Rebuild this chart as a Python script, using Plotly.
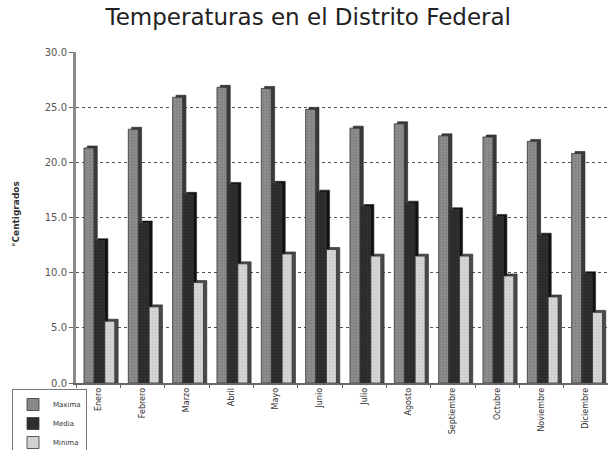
import plotly.graph_objects as go

meses = ["Enero", "Febrero", "Marzo", "Abril", "Mayo", "Junio", "Julio",
         "Agosto", "Septiembre", "Octubre", "Noviembre", "Diciembre"]
maxima = [21.3, 23.0, 25.9, 26.8, 26.7, 24.8, 23.1, 23.5, 22.4, 22.3, 21.9, 20.8]
media = [12.9, 14.5, 17.1, 18.0, 18.1, 17.3, 16.0, 16.3, 15.7, 15.1, 13.4, 9.9]
minima = [5.6, 6.9, 9.1, 10.8, 11.7, 12.1, 11.5, 11.5, 11.5, 9.7, 7.8, 6.4]

series = [
    ("Maxima", maxima, "#8e8e8e", "#6a6a6a", "#3a3a3a", -0.32),
    ("Media", media, "#303030", "#1c1c1c", "#111111", -0.08),
    ("Minima", minima, "#d6d6d6", "#b8b8b8", "#4a4a4a", 0.15),
]

face_w = 0.225
depth = 0.075

fig = go.Figure()
for name, vals, face, pat, side, off in series:
    # 3D side / top slab drawn behind the face
    fig.add_trace(go.Bar(
        x=meses, y=[v + 0.18 for v in vals], offset=off + depth, width=face_w,
        marker=dict(color=side, line=dict(color="#222222", width=0.6)),
        showlegend=False, hoverinfo="skip"))
    fig.add_trace(go.Bar(
        x=meses, y=vals, name=name, offset=off, width=face_w,
        marker=dict(color=face, line=dict(color="#333333", width=0.8),
                    pattern=dict(shape=".", fgcolor=pat, size=3, solidity=0.35)),
    ))

fig.update_layout(
    width=608, height=450,
    barmode="overlay",
    paper_bgcolor="white", plot_bgcolor="white",
    margin=dict(l=76, r=0, t=52, b=67, autoexpand=False),
    title=dict(text="Temperaturas en el Distrito Federal",
               x=0.507, xref="container", xanchor="center",
               y=0.962, yref="container", yanchor="middle",
               font=dict(family="DejaVu Sans", size=23, color="#222222")),
    font=dict(family="DejaVu Sans", color="#444444"),
    legend=dict(x=12 / 608, y=1 - 389 / 450, xref="container", yref="container",
                xanchor="left", yanchor="top",
                orientation="v", bgcolor="white", bordercolor="#777777",
                borderwidth=1, font=dict(size=7, color="#333333"),
                itemwidth=30, tracegroupgap=0),
    showlegend=True,
    annotations=[dict(text="°Centigrados", xref="paper", yref="paper",
                      x=-0.113, y=0.51, textangle=-90, showarrow=False,
                      xanchor="center", yanchor="middle",
                      font=dict(size=9, color="#333333", weight="bold"))],
)
fig.update_xaxes(
    type="category", categoryorder="array", categoryarray=meses,
    range=[-0.5, 11.5], tickangle=-90,
    tickfont=dict(size=8, color="#333333"),
    ticks="outside", ticklen=3, tickson="boundaries", tickcolor="#666666",
    showline=True, linecolor="#666666", linewidth=1.5, showgrid=False,
    automargin=False)
fig.update_yaxes(
    range=[0, 30], dtick=5, tickformat=".1f",
    tickfont=dict(size=10, color="#555555"),
    ticks="outside", ticklen=4, tickcolor="#666666",
    showline=True, linecolor="#8a8a8a", linewidth=3,
    showgrid=True, gridcolor="#555555", griddash="dot", gridwidth=1,
    automargin=False)

fig.write_html("out.html", config={"displayModeBar": False},
               post_script="document.body.style.margin='0';")
